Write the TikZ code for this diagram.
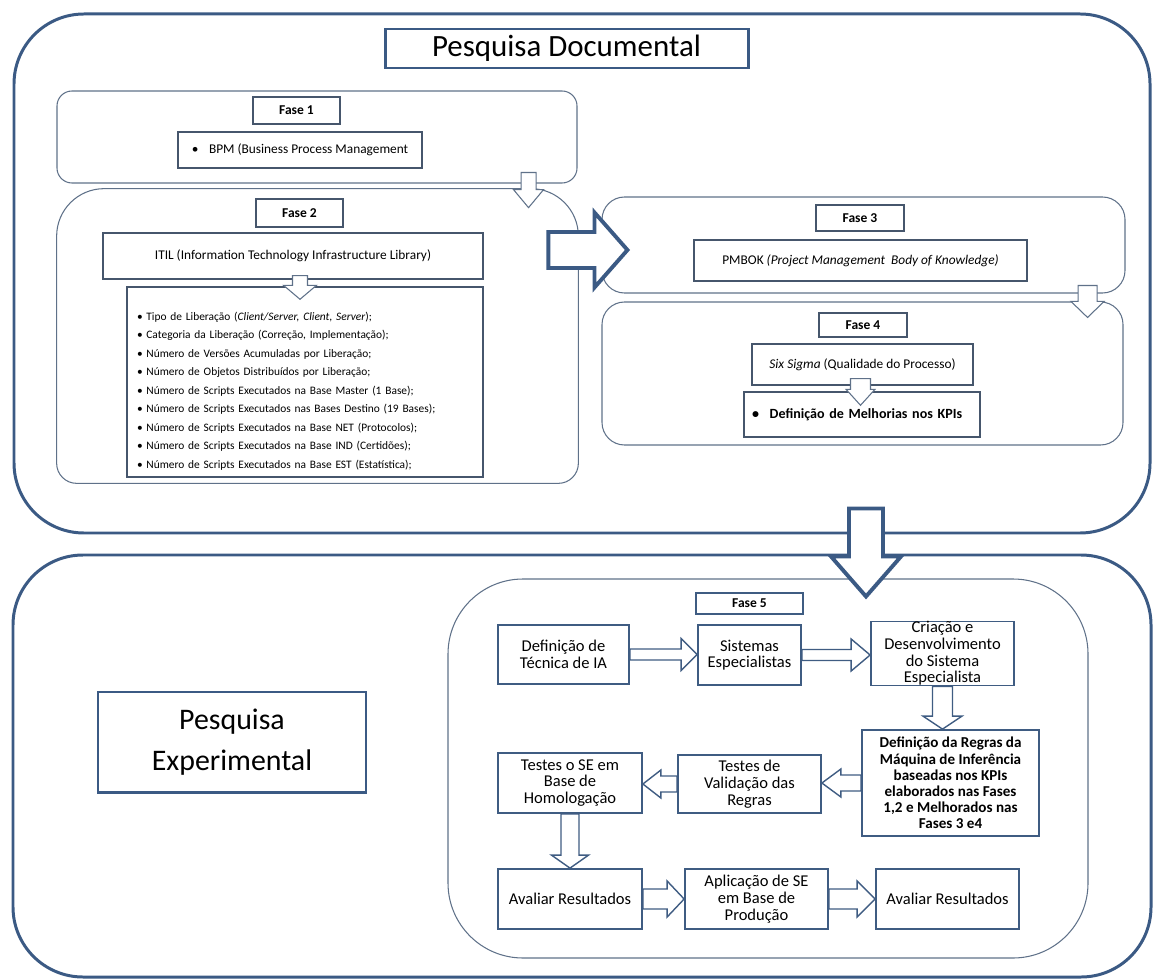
\documentclass[tikz,border=0pt]{standalone}
\usepackage{fontspec}
\setmainfont{Carlito}
\usepackage{tikz}
\usetikzlibrary{fit,calc}

\definecolor{frameblue}{HTML}{3B5A84}
\definecolor{phaseline}{HTML}{5F7189}
\definecolor{boxline}{HTML}{46566C}
\definecolor{flowline}{HTML}{3F5C82}

% block arrow pointing down: from, to, half shaft, half head, head length, style
\newcommand{\downarr}[6]{%
  \draw[#6] ($(#1)+(-#3,0)$) -- ($(#1|-#2)+(-#3,-#5)$) -- ($(#1|-#2)+(-#4,-#5)$) -- (#1|-#2)
    -- ($(#1|-#2)+(#4,-#5)$) -- ($(#1|-#2)+(#3,-#5)$) -- ($(#1)+(#3,0)$) -- cycle;}
% block arrow sideways: from, to, half shaft, half head, head length (negative = to the left), style
\newcommand{\sidearr}[6]{%
  \draw[#6] ($(#1)+(0,-#3)$) -- ($(#2|-#1)+({-1*(#5)},-#3)$) -- ($(#2|-#1)+({-1*(#5)},-#4)$) -- (#2|-#1)
    -- ($(#2|-#1)+({-1*(#5)},#4)$) -- ($(#2|-#1)+({-1*(#5)},#3)$) -- ($(#1)+(0,#3)$) -- cycle;}

\begin{document}
\begin{tikzpicture}[
		x=0.02cm, y=-0.02cm,
		wh/.style 2 args={minimum width=#1*0.02cm, minimum height=#2*0.02cm},
		outerbox/.style={draw=frameblue, line width=1.7pt, rounded corners=1.4cm, inner sep=0pt},
		titlebox/.style={draw=frameblue, line width=1.7pt, inner sep=0pt, align=center},
		phasebox/.style={draw=phaseline, line width=0.6pt, inner sep=0pt},
		fasetag/.style={draw=boxline, line width=0.8pt, inner sep=0pt, font=\fontsize{7.7}{9}\selectfont\bfseries},
		itembox/.style={draw=boxline, line width=0.8pt, inner sep=0pt, font=\fontsize{7.6}{9}\selectfont},
		stepbox/.style={draw=flowline, line width=1pt, inner sep=0pt, align=center, font=\fontsize{9.4}{9.5}\selectfont},
		thinarrow/.style={draw=phaseline, line width=0.6pt, fill=white, line join=miter},
		flowarrow/.style={draw=flowline, line width=0.8pt, fill=white, line join=miter},
		bigarrow/.style={draw=frameblue, line width=2.2pt, fill=white, line join=miter}
	]
		\useasboundingbox (0,0) rectangle (1155,979);
		
		% Pesquisa Documental
		\node[outerbox, fit={(14,14) (1150,533)}] (docbox) {};
		\node[titlebox, wh={363}{39}, font=\fontsize{17.6}{20}\selectfont] (doctitle) at (566.5,48.5) {Pesquisa Documental};
		
		% Fase 1
		\node[phasebox, rounded corners=0.3cm, fit={(57,91) (577,183)}] (fase1) {};
		\node[fasetag, wh={87}{27}] (tag1) at (296.5,110.5) {Fase 1};
		\node[itembox, wh={244}{36}] (bpm) at (300,150) {\textbullet\hspace{6pt}BPM (Business Process Management};
		
		% Fase 2
		\node[inner sep=0pt, fit={(57,189) (578,483)}] (fase2) {};
		\draw[phaseline, line width=0.6pt, rounded corners=0.4cm] (fase2.west) -- (fase2.south west) -- (fase2.south east) -- (fase2.east);
		\draw[phaseline, line width=0.6pt, rounded corners=0.95cm] (fase2.east) -- (fase2.north east) -- (fase2.north west) -- (fase2.west);
		\node[fasetag, wh={87}{28}] (tag2) at (299.5,213) {Fase 2};
		\node[itembox, wh={380}{46}] (itil) at (293,256) {ITIL (Information Technology Infrastructure Library)};
		\node[itembox, wh={356}{190}, text width=191pt, align=left, font=\fontsize{6.5}{10.5}\selectfont] (itens) at (305,382) {%
			\rule{0pt}{15pt}\textbullet\hspace{2pt}Tipo de Liberação (\textit{Client/Server, Client, Server});\\
			\textbullet\hspace{2pt}Categoria da Liberação (Correção, Implementação);\\
			\textbullet\hspace{2pt}Número de Versões Acumuladas por Liberação;\\
			\textbullet\hspace{2pt}Número de Objetos Distribuídos por Liberação;\\
			\textbullet\hspace{2pt}Número de Scripts Executados na Base Master (1 Base);\\
			\textbullet\hspace{2pt}Número de Scripts Executados nas Bases Destino (19 Bases);\\
			\textbullet\hspace{2pt}Número de Scripts Executados na Base NET (Protocolos);\\
			\textbullet\hspace{2pt}Número de Scripts Executados na Base IND (Certidões);\\
			\textbullet\hspace{2pt}Número de Scripts Executados na Base EST (Estatística);};
		
		% Fase 3 e Fase 4
		\node[phasebox, rounded corners=0.45cm, fit={(602,197) (1125,293)}] (fase3) {};
		\node[fasetag, wh={88}{26}] (tag3) at (860,218) {Fase 3};
		\node[itembox, wh={333}{41}] (pmbok) at (860.5,260.5) {PMBOK \textit{(Project Management\ \ Body of Knowledge)}};
		\node[phasebox, rounded corners=0.45cm, fit={(602,302) (1123,445)}] (fase4) {};
		\node[fasetag, wh={88}{24}] (tag4) at (863,325) {Fase 4};
		\node[itembox, wh={221}{41}] (sigma) at (862.5,364.5) {\textit{Six Sigma} (Qualidade do Processo)};
		\node[itembox, wh={236}{45}, text width=125pt, align=left, font=\fontsize{8}{9}\selectfont\bfseries] (kpis) at (862,414.5) {\textbullet\hspace{6pt}Definição de Melhorias nos KPIs};
		
		% Pesquisa Experimental
		\node[outerbox, fit={(13,555) (1151,977)}] (expbox) {};
		\node[titlebox, wh={268}{100}, font=\fontsize{17}{23}\selectfont] (exptitle) at (232,742) {Pesquisa\\Experimental};
		
		% Fase 5
		\node[phasebox, rounded corners=1.5cm, fit={(448,579) (1088,958)}] (fase5) {};
		\node[fasetag, draw=flowline, wh={107}{21}] (tag5) at (749.5,603.5) {Fase 5};
		\node[stepbox, wh={131}{59}] (tecnica) at (563.5,654.5) {Definição de\\Técnica de IA};
		\node[stepbox, wh={103}{60}] (sistemas) at (749.5,655) {Sistemas\\Especialistas};
		\node[stepbox, wh={143}{61}] (criacao) at (942.5,653.5) {Criação e\\Desenvolvimento\\do Sistema\\Especialista};
		\node[stepbox, wh={177}{106}, font=\fontsize{8.6}{9.2}\selectfont\bfseries] (regras) at (950.5,783) {Definição da Regras da\\Máquina de Inferência\\baseadas nos KPIs\\elaborados nas Fases\\1,2 e Melhorados nas\\Fases 3 e4};
		\node[stepbox, wh={143}{58}] (validacao) at (749.5,784) {Testes de\\Validação das\\Regras};
		\node[stepbox, wh={144}{60}] (homolog) at (570,783) {Testes o SE em\\Base de\\Homologação};
		\node[stepbox, wh={144}{60}] (avaliar1) at (570,899) {Avaliar Resultados};
		\node[stepbox, wh={143}{60}] (producao) at (756.5,899) {Aplicação de SE\\em Base de\\Produção};
		\node[stepbox, wh={143}{60}] (avaliar2) at (947.5,899) {Avaliar Resultados};
		
		% Arrow ends
		\coordinate (f1out) at ($(fase1.south east)+(-49,-11)$);
		\coordinate (f2in) at ($(fase2.north)+(0,19)$);
		\coordinate (itilout) at ($(itil.south)+(7,-4)$);
		\coordinate (itensin) at ($(itens.north)+(0,13)$);
		\coordinate (f2out) at ($(fase2.east)+(-30,-86)$);
		\coordinate (f3in) at ($(fase3.west)+(26,0)$);
		\coordinate (f3out) at ($(fase3.south east)+(-38,-8)$);
		\coordinate (f4in) at ($(fase4.north)+(0,16)$);
		\coordinate (sigmaout) at ($(sigma.south)+(-2,-7)$);
		\coordinate (kpisin) at ($(kpis.north)+(0,14)$);
		\coordinate (docout) at ($(docbox.south)+(284,-26)$);
		\coordinate (f5in) at ($(fase5.north)+(0,18)$);
		
		% Arrows
		\downarr{f1out}{f2in}{7.5}{15}{18}{thinarrow}
		\downarr{itilout}{itensin}{7.5}{16.5}{14}{thinarrow}
		\downarr{f3out}{f4in}{9.5}{16.5}{16}{thinarrow}
		\downarr{sigmaout}{kpisin}{10}{14.5}{16}{thinarrow}
		\sidearr{f2out}{f3in}{18}{37.5}{33}{bigarrow}
		\downarr{docout}{f5in}{17}{35}{40}{bigarrow}
		
		\sidearr{tecnica.east}{sistemas.west}{5.5}{16}{16}{flowarrow}
		\sidearr{sistemas.east}{criacao.west}{5.5}{16}{19}{flowarrow}
		\downarr{criacao.south}{regras.north}{10}{19.5}{13}{flowarrow}
		\sidearr{regras.west}{validacao.east}{8}{14}{-19}{flowarrow}
		\sidearr{validacao.west}{homolog.east}{8}{14}{-18}{flowarrow}
		\downarr{homolog.south}{avaliar1.north}{9}{18.5}{13}{flowarrow}
		\sidearr{avaliar1.east}{producao.west}{10}{18}{17}{flowarrow}
		\sidearr{producao.east}{avaliar2.west}{10}{18}{18}{flowarrow}
	\end{tikzpicture}
\end{document}
